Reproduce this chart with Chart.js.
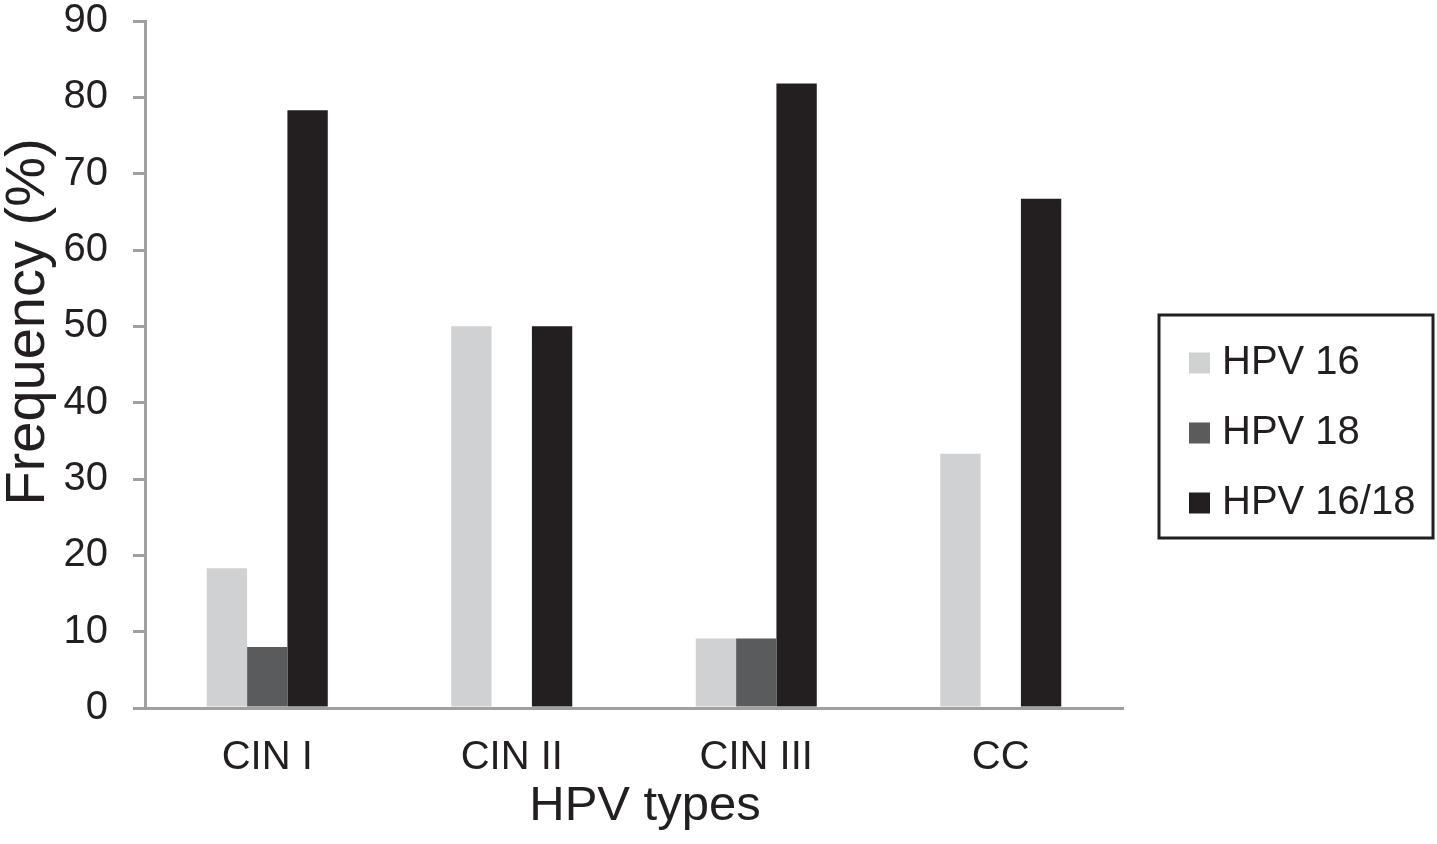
<!DOCTYPE html>
<html>
<head>
<meta charset="utf-8">
<style>
  html, body { margin: 0; padding: 0; background: #fff; }
  canvas { display: block; }
</style>
<script src="https://cdn.jsdelivr.net/npm/chart.js@4.4.0/dist/chart.umd.min.js"></script>
</head>
<body>
<canvas id="myChart" width="1437" height="844"></canvas>
<script>
// data
var categories = ['CIN I', 'CIN II', 'CIN III', 'CC'];
var seriesNames = ['HPV 16', 'HPV 18', 'HPV 16/18'];
var hpv16 = [18.3, 50, 9.1, 33.3];
var hpv18 = [8, 0, 9.1, 0];
var hpv1618 = [78.3, 50, 81.8, 66.7];
var yTicks = [0, 10, 20, 30, 40, 50, 60, 70, 80, 90];
var xTitle = 'HPV types';
var yTitle = 'Frequency (%)';

var colors = ['#cfd1d2', '#5a5b5d', '#231f20'];
var axisColor = '#a0a0a0';
var textColor = '#231f20';
var fontFamily = '"Liberation Sans", Arial, Helvetica, sans-serif';

// axis titles and the boxed legend, placed relative to the plot area
var extras = {
    id: 'extras',
    afterDraw: function (chart) {
        var c = chart.ctx;
        var area = chart.chartArea;
        c.save();
        c.fillStyle = textColor;
        c.textAlign = 'center';
        c.textBaseline = 'middle';

        // y title, rotated
        c.save();
        c.translate(29, area.top + 301);
        c.rotate(-Math.PI / 2);
        c.font = '56px ' + fontFamily;
        c.fillText(yTitle, 0, 0);
        c.restore();

        // x title
        c.font = '49px ' + fontFamily;
        c.fillText(xTitle, area.left + 500, area.bottom + 98);

        // legend
        var left = area.right + 36, top = 315, w = 274, h = 223;
        c.strokeStyle = textColor;
        c.lineWidth = 3;
        c.strokeRect(left, top, w, h);
        c.font = '40px ' + fontFamily;
        c.textAlign = 'left';
        chart.data.datasets.forEach(function (ds, i) {
            var cy = 363 + i * 70;
            c.fillStyle = ds.backgroundColor;
            c.fillRect(left + 30, cy - 10.5, 21, 21);
            c.fillStyle = textColor;
            c.fillText(ds.label, left + 63, cy);
        });
        c.restore();
    }
};

var ctx = document.getElementById('myChart').getContext('2d');
var myChart = new Chart(ctx, {
    type: 'bar',
    data: {
        labels: categories,
        datasets: [
            { label: seriesNames[0], data: hpv16, backgroundColor: colors[0] },
            { label: seriesNames[1], data: hpv18, backgroundColor: colors[1] },
            { label: seriesNames[2], data: hpv1618, backgroundColor: colors[2] }
        ]
    },
    options: {
        responsive: false,
        animation: false,
        layout: { padding: { top: 21, right: 314, bottom: 0, left: 0 } },
        datasets: {
            bar: { barPercentage: 1, categoryPercentage: 0.495, borderWidth: 0 }
        },
        plugins: {
            legend: { display: false },
            tooltip: { enabled: false }
        },
        scales: {
            x: {
                grid: { display: false, drawTicks: false },
                border: { color: axisColor, width: 3 },
                ticks: {
                    color: textColor,
                    padding: 26,
                    font: { family: fontFamily, size: 40, lineHeight: 1.2 }
                },
                afterFit: function (scale) { scale.height = 136; }
            },
            y: {
                min: 0,
                max: 90,
                afterBuildTicks: function (scale) {
                    scale.ticks = yTicks.map(function (v) { return { value: v }; });
                },
                grid: {
                    display: true,
                    drawOnChartArea: false,
                    drawTicks: true,
                    tickLength: 12,
                    color: axisColor,
                    lineWidth: 3
                },
                border: { color: axisColor, width: 3 },
                ticks: {
                    color: textColor,
                    padding: 25,
                    font: { family: fontFamily, size: 40, lineHeight: 1.0 }
                },
                afterFit: function (scale) {
                    scale.width = 145;
                    scale.paddingTop = 0;
                    scale.paddingBottom = 0;
                }
            }
        }
    },
    plugins: [extras]
});
</script>
</body>
</html>
